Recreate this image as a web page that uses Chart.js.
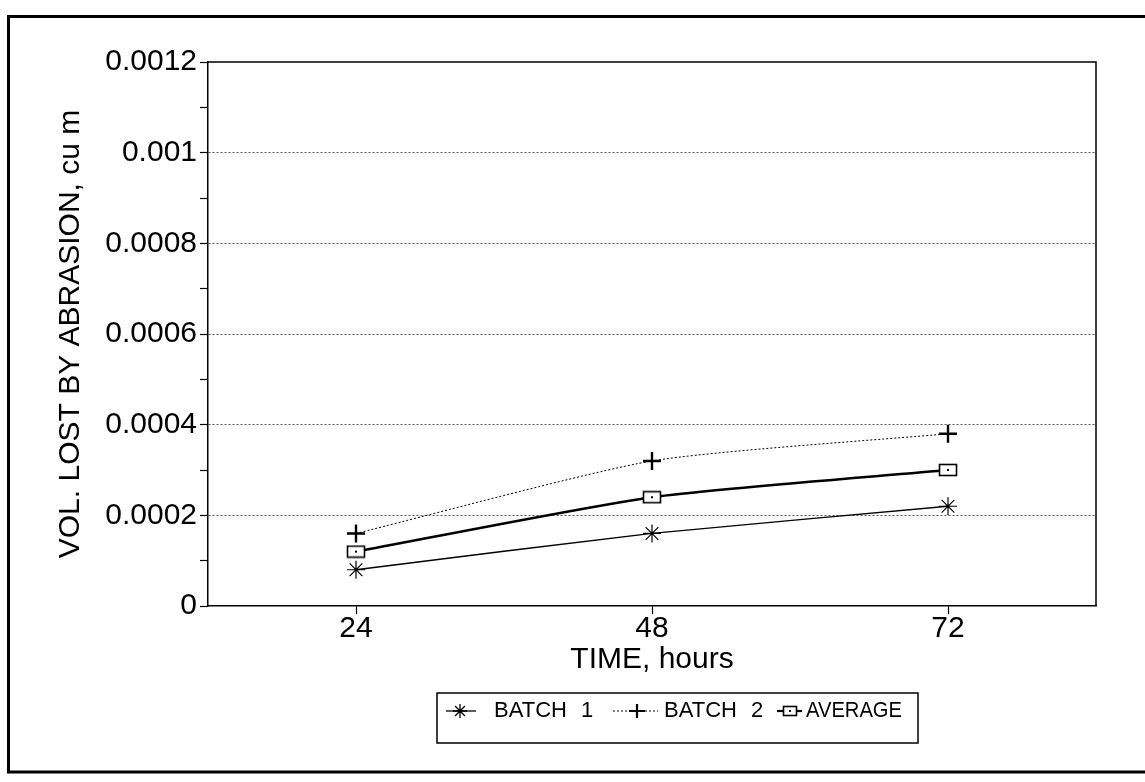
<!DOCTYPE html>
<html><head><meta charset="utf-8">
<script src="https://cdn.jsdelivr.net/npm/chart.js@4.4.0/dist/chart.umd.min.js"></script>
<style>html,body{margin:0;padding:0;background:#fff;overflow:hidden}</style>
</head><body>
<canvas id="c" width="1145" height="782" style="display:block"></canvas>
<script>
// ---- data ----
const categories = ['24', '48', '72'];
const batch1 = [0.00008, 0.00016, 0.00022];
const batch2 = [0.00016, 0.00032, 0.00038];
const average = [0.00012, 0.00024, 0.00030];
const seriesNames = ['BATCH 1', 'BATCH 2', 'AVERAGE'];
const yMin = 0, yMax = 0.0012, yMinorStep = 0.0001;
const xTitle = 'TIME, hours';
const yTitle = 'VOL. LOST BY ABRASION, cu m';

const FONT = '"Liberation Sans", Arial, Helvetica, sans-serif';

// rectangle marker for AVERAGE
function makeRectMarker(w, h) {
  const cv = document.createElement('canvas');
  cv.width = w + 3; cv.height = h + 3;
  const c = cv.getContext('2d');
  c.fillStyle = '#fff';
  c.fillRect(1.5, 1.5, w, h);
  c.strokeStyle = '#000';
  c.lineWidth = 1.6;
  c.strokeRect(1.5, 1.5, w, h);
  c.fillStyle = '#000';
  c.fillRect((w + 3) / 2 - 1, (h + 3) / 2 - 1, 2, 2);
  return cv;
}
const rectMarker = makeRectMarker(17, 11);
const legendRect = makeRectMarker(13, 9);

function isMajor(v) { return Math.round(v / yMinorStep) % 2 === 0; }

function drawStar(ctx, x, y, r) {
  ctx.beginPath();
  ctx.moveTo(x - r, y); ctx.lineTo(x + r, y);
  ctx.moveTo(x, y - r); ctx.lineTo(x, y + r);
  const d = r * Math.SQRT1_2;
  ctx.moveTo(x - d, y - d); ctx.lineTo(x + d, y + d);
  ctx.moveTo(x - d, y + d); ctx.lineTo(x + d, y - d);
  ctx.stroke();
}

const decorPlugin = {
  id: 'decor',
  beforeDatasetsDraw(chart) {
    const {ctx, chartArea: a} = chart;
    ctx.save();
    ctx.strokeStyle = '#000';
    ctx.lineWidth = 1.5;
    ctx.beginPath();
    ctx.moveTo(a.left, a.top);
    ctx.lineTo(a.right, a.top);
    ctx.lineTo(a.right, a.bottom);
    ctx.stroke();
    ctx.restore();
  },
  afterDraw(chart) {
    const ctx = chart.ctx;
    ctx.save();
    // outer frame
    ctx.strokeStyle = '#000';
    ctx.lineWidth = 3;
    ctx.beginPath();
    ctx.moveTo(1150, 16.5);
    ctx.lineTo(8.5, 16.5);
    ctx.lineTo(8.5, 772);
    ctx.lineTo(1150, 772);
    ctx.stroke();

    // legend box
    const bx = 437, by = 693, bw = 481, bh = 50;
    ctx.lineWidth = 1.5;
    ctx.strokeRect(bx, by, bw, bh);
    const cy = 711;
    ctx.font = '22px ' + FONT;
    ctx.fillStyle = '#000';
    ctx.textBaseline = 'middle';
    ctx.textAlign = 'left';
    try { ctx.wordSpacing = '8px'; } catch (e) {}

    // batch 1 sample
    ctx.lineWidth = 1.3;
    ctx.setLineDash([]);
    ctx.beginPath(); ctx.moveTo(446, cy); ctx.lineTo(476, cy); ctx.stroke();
    drawStar(ctx, 460, cy, 7);
    ctx.fillText(seriesNames[0], 494, cy, 111);

    // batch 2 sample
    ctx.lineWidth = 1;
    ctx.setLineDash([2, 2]);
    ctx.beginPath(); ctx.moveTo(613, cy); ctx.lineTo(658, cy); ctx.stroke();
    ctx.setLineDash([]);
    ctx.lineWidth = 2.2;
    ctx.beginPath();
    ctx.moveTo(637 - 8, cy); ctx.lineTo(637 + 8, cy);
    ctx.moveTo(637, cy - 7); ctx.lineTo(637, cy + 7);
    ctx.stroke();
    ctx.fillText(seriesNames[1], 664, cy, 108);

    // average sample
    ctx.lineWidth = 2.2;
    ctx.beginPath(); ctx.moveTo(777, cy); ctx.lineTo(802, cy); ctx.stroke();
    ctx.drawImage(legendRect, 790 - legendRect.width / 2, cy - legendRect.height / 2);
    try { ctx.wordSpacing = '0px'; } catch (e) {}
    ctx.fillText(seriesNames[2], 806, cy, 96);
    ctx.restore();
  }
};

new Chart(document.getElementById('c'), {
  type: 'line',
  data: {
    labels: categories,
    datasets: [
      {
        label: seriesNames[0], data: batch1,
        borderColor: '#000', borderWidth: 1.3, tension: 0.2,
        pointStyle: 'star', pointRadius: 9, pointHoverRadius: 9,
        pointBorderColor: '#000', pointBorderWidth: 1.2, pointBackgroundColor: '#000'
      },
      {
        label: seriesNames[1], data: batch2,
        borderColor: '#000', borderWidth: 1, borderDash: [2, 2], tension: 0.2,
        pointStyle: 'cross', pointRadius: 9, pointHoverRadius: 9,
        pointBorderColor: '#000', pointBorderWidth: 2.4
      },
      {
        label: seriesNames[2], data: average,
        borderColor: '#000', borderWidth: 2.4, tension: 0.2,
        pointStyle: rectMarker, pointRadius: 9, pointHoverRadius: 9
      }
    ]
  },
  options: {
    responsive: false,
    animation: false,
    devicePixelRatio: 1,
    layout: { padding: { left: 0, top: 62, right: 49, bottom: 104 } },
    plugins: { legend: { display: false }, tooltip: { enabled: false } },
    scales: {
      x: {
        type: 'category',
        offset: true,
        grid: {
          display: true, drawOnChartArea: false, drawTicks: true, offset: false,
          tickLength: 8, tickColor: '#000', tickWidth: 1.2
        },
        border: { display: true, color: '#000', width: 1.5 },
        ticks: { color: '#000', font: { family: FONT, size: 30 }, padding: -3, maxRotation: 0 },
        title: { display: true, text: xTitle, color: '#000', font: { family: FONT, size: 30 }, padding: { top: 0, bottom: 0 } },
        afterFit(s) { s.height = 72; }
      },
      y: {
        min: yMin, max: yMax,
        grid: {
          display: true, drawOnChartArea: true, drawTicks: true,
          color: ctx => (ctx.tick && isMajor(ctx.tick.value) && ctx.tick.value > 0 && ctx.tick.value < yMax - 1e-9) ? '#555' : 'rgba(0,0,0,0)',
          lineWidth: 1,
          tickLength: 8, tickColor: '#000', tickWidth: 1.2
        },
        border: { display: true, color: '#000', width: 1.5, dash: [2, 2] },
        ticks: {
          stepSize: yMinorStep, autoSkip: false, color: '#000', padding: 3,
          font: { family: FONT, size: 30 },
          callback: v => isMajor(v) ? String(Number(v.toFixed(4))) : ''
        },
        title: { display: true, text: yTitle, color: '#000', font: { family: FONT, size: 30 }, padding: { top: 53, bottom: 0 } },
        afterFit(s) { s.width = 208; }
      }
    }
  },
  plugins: [decorPlugin]
});
</script>
</body></html>
